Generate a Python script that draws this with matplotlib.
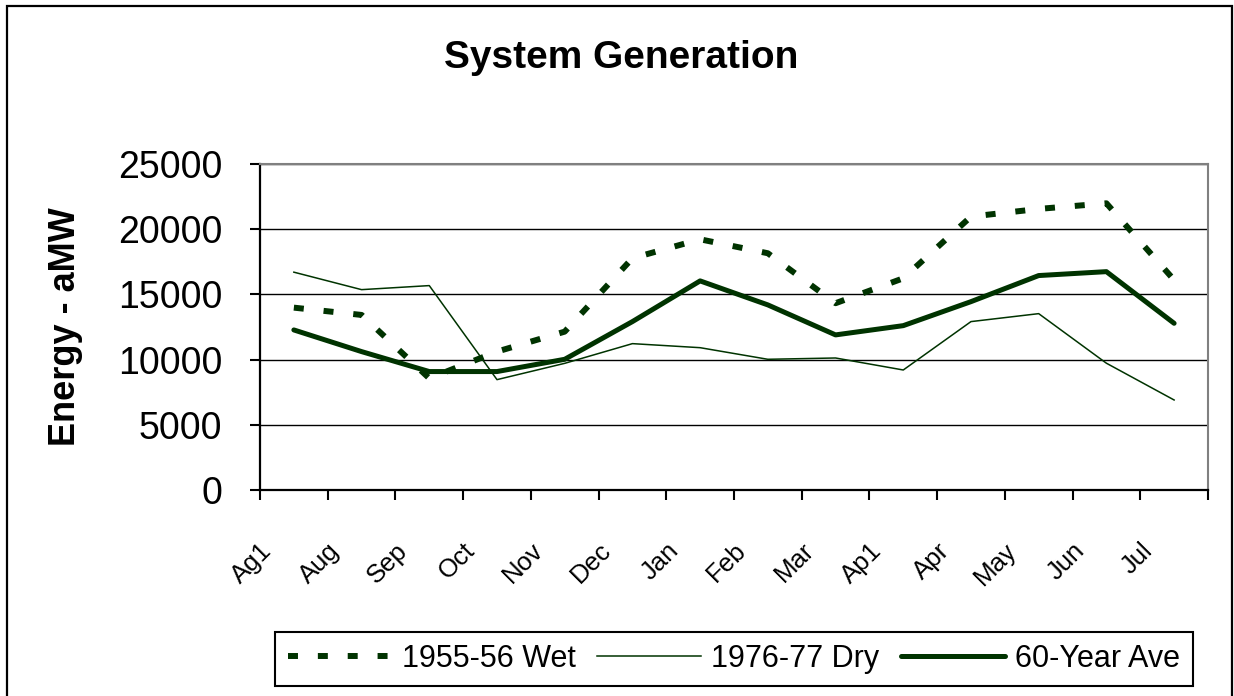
import matplotlib
matplotlib.use("Agg")
import matplotlib.pyplot as plt
import matplotlib.transforms as mtransforms
from matplotlib.patches import Rectangle
import numpy as np

plt.rcParams['font.family'] = ['Liberation Sans', 'DejaVu Sans']

# data
months = ['Ag1', 'Aug', 'Sep', 'Oct', 'Nov', 'Dec', 'Jan', 'Feb', 'Mar',
          'Ap1', 'Apr', 'May', 'Jun', 'Jul']
wet_1955 = [13980, 13420, 8560, 10610, 12140, 17770, 19220, 18150, 14320,
            16230, 20960, 21550, 21980, 16100]
dry_1976 = [16700, 15360, 15670, 8460, 9710, 11220, 10910, 10020, 10120,
            9200, 12910, 13520, 9720, 6900]
ave_60yr = [12270, 10610, 9080, 9080, 10020, 12910, 16030, 14190, 11890,
            12600, 14440, 16440, 16740, 12780]
y_ticks = [0, 5000, 10000, 15000, 20000, 25000]

green = '#003300'

fig = plt.figure(figsize=(12.34, 6.96), dpi=100)
ax = fig.add_axes([0.2107, 0.296, 0.7682, 0.4685])

x = np.arange(len(months)) + 0.5
ax.plot(x, wet_1955, color=green, lw=4.3, linestyle=(0, (1.67, 3.33)),
        dash_capstyle='butt', label='1955-56 Wet')
ax.plot(x, dry_1976, color=green, lw=1.1, label='1976-77 Dry')
ax.plot(x, ave_60yr, color=green, lw=3.6, solid_capstyle='round',
        solid_joinstyle='round', label='60-Year Ave')

ax.set_xlim(0, len(months))
ax.set_ylim(0, 25000)

# category axis: ticks between categories, labels at centres
ax.set_xticks(np.arange(len(months) + 1))
ax.set_xticklabels([])
ax.set_xticks(x, minor=True)
ax.set_xticklabels(months, minor=True, rotation=45, ha='right', va='top',
                   fontsize=18.5)
ax.tick_params(axis='x', which='major', direction='out', length=7.2,
               width=1.5, color='black')
ax.tick_params(axis='x', which='minor', length=0, pad=35)
offset = mtransforms.ScaledTranslation(-0.17, 0, fig.dpi_scale_trans)
for lab in ax.get_xticklabels(minor=True):
    lab.set_transform(lab.get_transform() + offset)

ax.set_yticks(y_ticks)
ax.set_yticklabels([str(v) for v in y_ticks], fontsize=27)
ax.tick_params(axis='y', direction='out', length=7.2, width=1.5, pad=20)

ax.grid(axis='y', color='black', lw=1.0)
ax.set_axisbelow(True)

for side in ['left', 'bottom']:
    ax.spines[side].set_color('black')
    ax.spines[side].set_linewidth(1.6)
for side in ['top', 'right']:
    ax.spines[side].set_color('#808080')
    ax.spines[side].set_linewidth(1.5)

ax.set_ylabel('Energy - aMW', fontsize=26, fontweight='bold')
ax.yaxis.set_label_coords(-0.187, 0.5)

fig.text(0.503, 1 - 68 / 696, 'System Generation', fontsize=28,
         fontweight='bold', ha='center', va='baseline')

leg = fig.legend(loc='center', bbox_to_anchor=(0.5948, 0.0532), ncol=3,
                 fontsize=22, frameon=True, fancybox=False, framealpha=1,
                 handlelength=3.4, handletextpad=0.34, columnspacing=0.7,
                 borderpad=0.4, borderaxespad=0)
leg.get_frame().set_edgecolor('black')
leg.get_frame().set_linewidth(1.5)

# outer chart border (bottom edge runs off the image, as in the original)
fig.patches.append(Rectangle((7 / 1234, -5 / 696), 1225 / 1234, 695 / 696,
                             transform=fig.transFigure, fill=False,
                             edgecolor='black', lw=1.6))

fig.savefig('out.png', dpi=100)
